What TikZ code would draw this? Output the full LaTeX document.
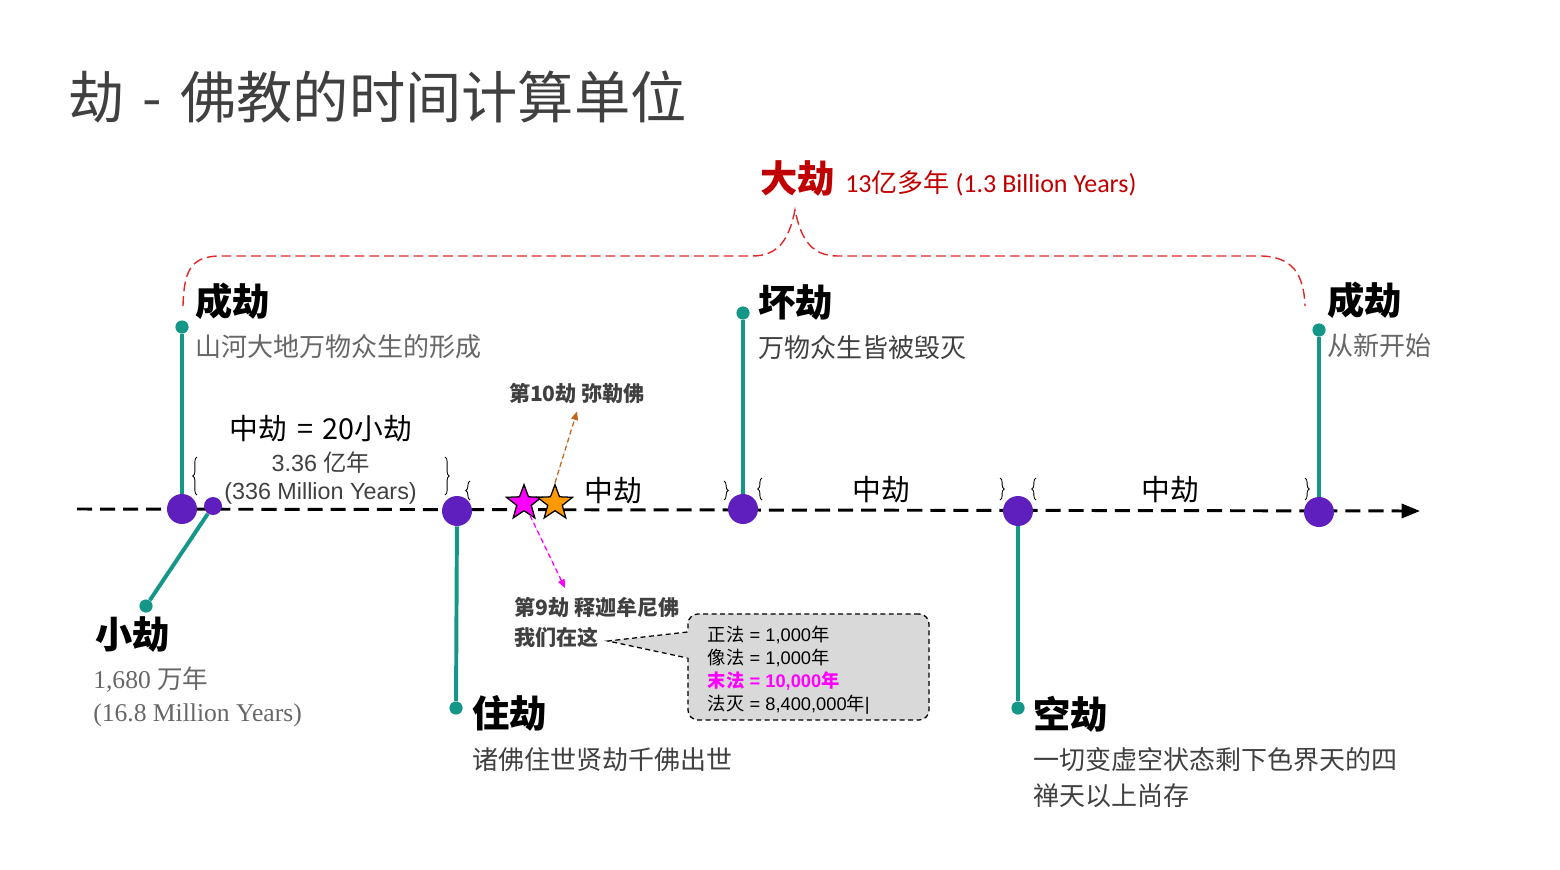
\documentclass[tikz,border=0pt]{standalone}
\usepackage{fontspec}
\newfontfamily\cjkfont{Noto Sans CJK SC}
\newfontfamily\arialfont{Liberation Sans}
\newfontfamily\timesfont{Liberation Serif}
\newfontfamily\calibrifont{Carlito}
\newcommand\zh[1]{{\cjkfont #1}}
\usepackage{tikz}
\usetikzlibrary{arrows.meta,shapes.geometric,decorations.pathreplacing,calc,positioning}
\definecolor{erapurple}{HTML}{5F1FBF}
\definecolor{poleteal}{HTML}{149688}
\definecolor{kalpared}{HTML}{C00000}
\definecolor{spanred}{HTML}{E02828}
\definecolor{titlegray}{HTML}{404040}
\definecolor{darknote}{HTML}{404040}
\definecolor{lightnote}{HTML}{666666}
\definecolor{dharmapink}{HTML}{FF00FF}
\definecolor{mileorange}{HTML}{FF9900}
\definecolor{milebrown}{HTML}{C0651A}
\definecolor{boxgray}{HTML}{D9D9D9}

\begin{document}
\begin{tikzpicture}[x=0.025cm,y=-0.025cm,
    title/.style={anchor=west,inner sep=0,text=titlegray,font=\cjkfont\fontsize{40}{48}\selectfont},
    kalpa/.style={anchor=west,inner sep=0,font=\cjkfont\bfseries\fontsize{26.5}{31}\selectfont},
    remark/.style={anchor=west,inner sep=0,text=darknote,font=\cjkfont\fontsize{18.5}{25.6}\selectfont,align=left},
    era/.style={circle,fill=erapurple,minimum size=0.75cm,inner sep=0},
    knob/.style={circle,fill=poleteal,minimum size=0.33cm,inner sep=0},
    pole/.style={draw=poleteal,line width=2.8pt},
    timeline/.style={line width=2.1pt,dash pattern=on 10.7pt off 5.7pt,-{Triangle[length=13pt,width=10pt]}},
    midlabel/.style={inner sep=0,font=\cjkfont\fontsize{20.5}{24}\selectfont},
    span/.style={decorate,decoration={brace,amplitude=3pt},line width=0.6pt},
    greatspan/.style={draw=spanred,line width=1pt,dash pattern=on 7pt off 3.5pt},
    buddha/.style={star,star points=5,star point ratio=2.4,minimum size=0.92cm,inner sep=0,draw=black,line width=0.9pt},
    tag/.style={inner sep=0,text=darknote,font=\cjkfont\bfseries\fontsize{15}{21}\selectfont},
    hint/.style={line width=0.9pt,dash pattern=on 3.5pt off 2.5pt,-{Triangle[length=6pt,width=5pt]}},
    factbox/.style={draw,fill=boxgray,rounded corners=0.25cm,line width=0.9pt,dash pattern=on 3.5pt off 2.5pt,
      minimum width=6.025cm,minimum height=2.65cm,inner xsep=0.5cm,inner ysep=0,
      font=\arialfont\fontsize{13}{16.2}\selectfont}]
  \useasboundingbox (0,0) rectangle (1560,869);

  % title
  \node[title] (head) at (68,97) {劫\kern4pt~-~\kern4pt佛教的时间计算单位};

  % great kalpa and its brace
  \node[kalpa,text=kalpared] (great) at (760,178) {大劫};
  \node[anchor=west,inner sep=0,text=kalpared,font=\calibrifont\fontsize{18.5}{22}\selectfont] (greatyrs) at (845,183) {13\zh{亿多年} (1.3 Billion Years)};
  \coordinate (peak) at (795,210);
  \draw[greatspan] (183,306) .. controls (184,272) and (190,257) .. (218,256) -- (752,256)
    .. controls (778,256) and (789,240) .. (peak) .. controls (801,240) and (812,256) .. (838,256)
    -- (1262,256) .. controls (1292,257) and (1304,274) .. (1305,306);

  % time line
  \coordinate (start) at (77,509);
  \coordinate (end) at (1420,511);
  \draw[timeline] (start) -- (end);

  % middle kalpa braces
  \foreach \x/\ya/\yb in {197/495/457, 470/500/481, 762/500/478, 1036/500/478}
    \draw[span] (\x,\ya) -- (\x,\yb);
  \foreach \x/\ya/\yb in {445/457/495, 724/481/500, 1000/478/500, 1305/478/500}
    \draw[span] (\x,\ya) -- (\x,\yb);

  \node[midlabel] (mid) at (321,429) {中劫\kern3pt~=~\kern2pt20小劫};
  \node[inner sep=0,text=darknote,font=\arialfont\fontsize{16.6}{20}\selectfont] (midyrs) at (321,463) {3.36 \zh{亿年}};
  \node[anchor=west,inner sep=0,text=darknote,font=\arialfont\fontsize{16.6}{20}\selectfont] (midmyrs) at (224,493) {(336 Million Years)};
  \node[midlabel] (mid2) at (613,491) {中劫};
  \node[midlabel] (mid3) at (881,490) {中劫};
  \node[midlabel] (mid4) at (1170,490) {中劫};

  % era dots and knobs
  \node[era] (cheng) at (182,509) {};
  \node[era,minimum size=0.45cm] (xiao) at (213,506) {};
  \node[era] (zhu) at (457,511) {};
  \node[era] (huai) at (743,509) {};
  \node[era] (kong) at (1018,511) {};
  \node[era] (renew) at (1319,512) {};
  \node[knob] (chengk) at (182,327) {};
  \node[knob] (xiaok) at (146,606) {};
  \node[knob] (zhuk) at (456,708) {};
  \node[knob] (huaik) at (743,313) {};
  \node[knob] (kongk) at (1018,708) {};
  \node[knob] (renewk) at (1319,330) {};
  \draw[pole] (cheng) -- (chengk);
  \draw[pole] (xiao) -- (xiaok);
  \draw[pole] (zhu) -- (zhuk);
  \draw[pole] (huai) -- (huaik);
  \draw[pole] (kong) -- (kongk);
  \draw[pole] (renew) -- (renewk);

  % kalpa labels
  \node[kalpa] (chengt) at (195,301) {成劫};
  \node[remark,text=lightnote] (chengn) at (195,347) {山河大地万物众生的形成};
  \node[kalpa] (huait) at (758,302) {坏劫};
  \node[remark] (huain) at (758,348) {万物众生皆被毁灭};
  \node[kalpa] (renewt) at (1327,300) {成劫};
  \node[remark,text=lightnote] (renewn) at (1327,346) {从新开始};
  \node[kalpa] (xiaot) at (95,634) {小劫};
  \node[remark,text=lightnote,font=\timesfont\fontsize{18.2}{23.5}\selectfont] (xiaon) at (93,697) {1,680 \zh{万年}\\(16.8 Million Years)};
  \node[kalpa] (zhut) at (472,713) {住劫};
  \node[remark] (zhun) at (472,760) {诸佛住世贤劫千佛出世};
  \node[kalpa] (kongt) at (1033,714) {空劫};
  \node[remark] (kongn) at (1033,778) {一切变虚空状态剩下色界天的四\\禅天以上尚存};

  % buddhas
  \node[buddha,fill=dharmapink] (mstar) at (524,503) {};
  \node[buddha,fill=mileorange] (ostar) at (555,503) {};
  \node[tag] (mile) at (577,393) {第10劫 弥勒佛};
  \draw[hint,draw=milebrown,fill=milebrown] (ostar.north) -- ([yshift=-0.2cm]mile.south);
  \node[tag,anchor=west] (sakya) at (514,607) {第9劫 释迦牟尼佛};
  \node[tag,anchor=west] (here) at (514,637) {我们在这};
  \coordinate (sakyatip) at (565,588);
  \draw[hint,draw=dharmapink,fill=dharmapink] (mstar) -- (sakyatip);

  % dharma ages callout
  \node[factbox] (fabox) at (808.5,667) {\raisebox{-2.4pt}[\height][\depth]{\parbox{5.025cm}{\raggedright
    \zh{正法} = 1,000\zh{年}\\\zh{像法} = 1,000\zh{年}\\{\color{dharmapink}\bfseries\zh{末法} = 10,000\zh{年}}\\\zh{法灭} = 8,400,000\zh{年}|}}};
  \coordinate (pointer) at ($(here.east)+(9,4)$);
  \fill[boxgray] ($(fabox.west)+(3,-35)$) -- (pointer) -- ($(fabox.west)+(3,-9)$) -- cycle;
  \draw[line width=0.9pt,dash pattern=on 3.5pt off 2.5pt] ($(fabox.west)+(0,-35)$) -- (pointer) -- ($(fabox.west)+(0,-9)$);
\end{tikzpicture}
\end{document}
